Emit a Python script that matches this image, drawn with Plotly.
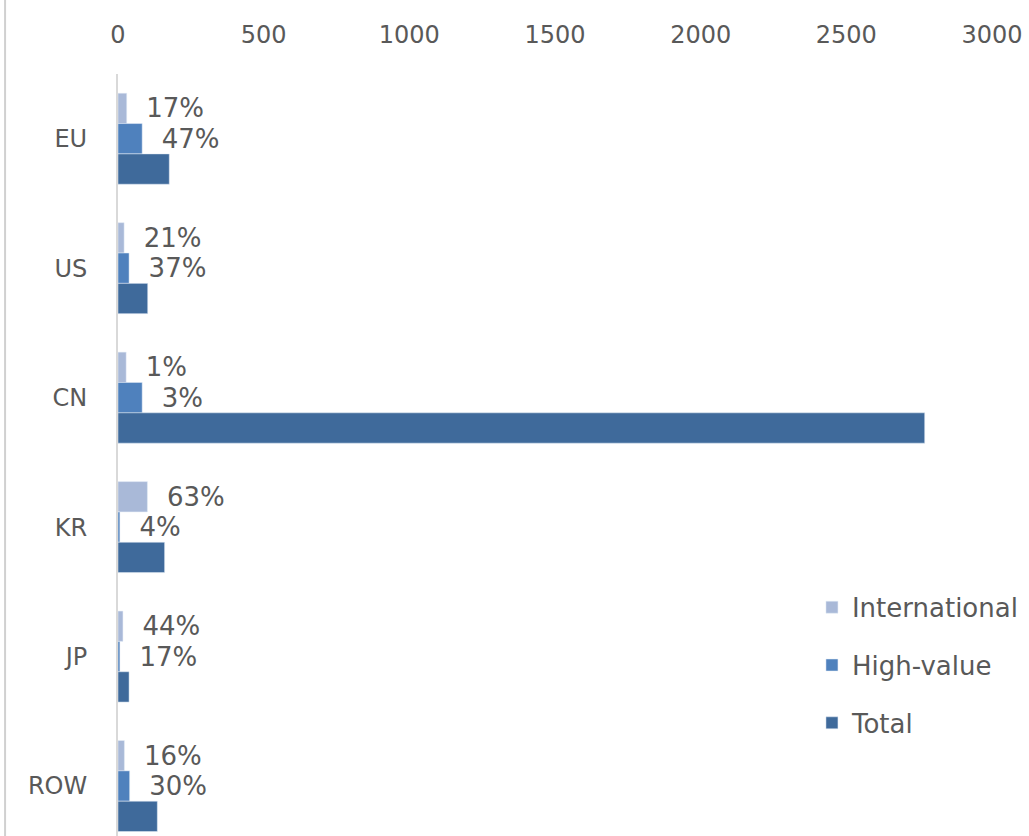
import plotly.graph_objects as go

# Regions, top to bottom
regions = ["EU", "US", "CN", "KR", "JP", "ROW"]

# Values per region
total = [176, 102, 2769, 160, 38, 135]
international = [30, 21, 28, 101, 17, 22]
high_value = [83, 38, 83, 6.4, 6.5, 40]

# Shares of the regional total shown next to the bars
intl_share = ["17%", "21%", "1%", "63%", "44%", "16%"]
hv_share = ["47%", "37%", "3%", "4%", "17%", "30%"]

x_ticks = [0, 500, 1000, 1500, 2000, 2500, 3000]

FONT = "DejaVu Sans"
GREY = "#595959"
PAD = "\u00a0\u00a0"

fig = go.Figure()

fig.add_trace(go.Bar(
    name="International", y=regions, x=international, orientation="h",
    marker=dict(color="#A9B9D8"), legendgroup="a",
    text=[PAD + s for s in intl_share], textposition="outside",
    textfont=dict(family=FONT, size=26, color=GREY),
    constraintext="none", cliponaxis=False, hoverinfo="x+y",
))
fig.add_trace(go.Bar(
    name="High-value", y=regions, x=high_value, orientation="h",
    marker=dict(color="#4F81BD"), legendgroup="b",
    text=[PAD + s for s in hv_share], textposition="outside",
    textfont=dict(family=FONT, size=26, color=GREY),
    constraintext="none", cliponaxis=False, hoverinfo="x+y",
))
fig.add_trace(go.Bar(
    name="Total", y=regions, x=total, orientation="h",
    marker=dict(color="#3F6A9B"), legendgroup="c",
    hoverinfo="x+y",
))

fig.update_layout(
    width=1029, height=836,
    margin=dict(l=117.5, r=37, t=74, b=0, pad=0),
    paper_bgcolor="white", plot_bgcolor="white",
    barmode="group", bargap=0.297, bargroupgap=0,
    font=dict(family=FONT, color=GREY),
    showlegend=True,
    legend=dict(
        x=0.794, xanchor="left", y=0.224, yanchor="middle",
        traceorder="grouped", tracegroupgap=21,
        font=dict(family=FONT, size=26, color=GREY),
        bgcolor="rgba(0,0,0,0)",
    ),
    xaxis=dict(
        side="top", range=[0, 3000], tickvals=x_ticks,
        showgrid=False, zeroline=False, showline=False,
        ticks="", ticklabelstandoff=25,
        tickfont=dict(family=FONT, size=24, color=GREY),
        fixedrange=True,
    ),
    yaxis=dict(
        type="category", range=[5.386, -0.5], autorange=False,
        showgrid=False, zeroline=False,
        showline=True, linecolor="#D9D9D9", linewidth=2,
        ticks="", ticklabelstandoff=24,
        tickfont=dict(family=FONT, size=24, color=GREY),
        fixedrange=True,
    ),
    shapes=[dict(
        type="line", xref="paper", yref="paper",
        x0=-0.1292, x1=-0.1292, y0=-0.01, y1=1.2,
        line=dict(color="#D0D0D0", width=2),
    )],
)

fig.write_html("out.html")
